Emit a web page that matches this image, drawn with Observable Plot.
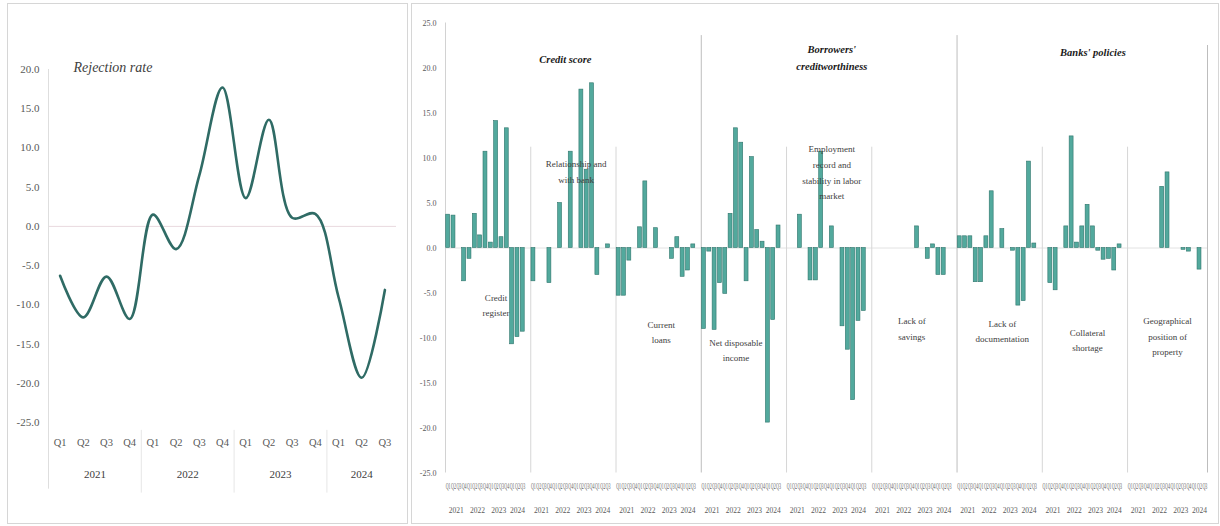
<!DOCTYPE html>
<html><head><meta charset="utf-8">
<script src="https://cdn.jsdelivr.net/npm/d3@7"></script>
<script src="https://cdn.jsdelivr.net/npm/@observablehq/plot@0.6"></script>
<style>
html,body{margin:0;padding:0;background:#fff;}
#wrap{position:relative;width:1220px;height:526px;overflow:hidden;font-family:"Liberation Serif",serif;}
.frame{position:absolute;border:1px solid #d6d6d6;box-sizing:border-box;}
#left,#right{position:absolute;top:0;}
</style></head><body>
<div id="wrap">
  <div class="frame" style="left:7px;top:3px;width:401px;height:521px"></div>
  <div class="frame" style="left:411px;top:3px;width:808px;height:521px"></div>
  <div id="left" style="left:0px"></div>
  <div id="right" style="left:412px"></div>
</div>
<script>
// ---------- data ----------
const quarters = ["Q1","Q2","Q3","Q4","Q1","Q2","Q3","Q4","Q1","Q2","Q3","Q4","Q1","Q2","Q3"];
const years = ["2021","2022","2023","2024"];
const rejectionRate = [-6.3,-11.6,-6.4,-11.8,1.5,-2.9,6.5,17.7,3.6,13.6,1.1,1.6,-9.0,-19.3,-8.1];

const sectionTitles = ["Credit score", "Borrowers'\ncreditworthiness", "Banks' policies"];
const groupNames = [
  "Credit\nregister",
  "Relationship and\nwith bank",
  "Current\nloans",
  "Net disposable\nincome",
  "Employment\nrecord and\nstability in labor\nmarket",
  "Lack of\nsavings",
  "Lack of\ndocumentation",
  "Collateral\nshortage",
  "Geographical\nposition of\nproperty"
];
const creditRegister       = [3.7, 3.6, 0, -3.7, -1.2, 3.8, 1.4, 10.7, 0.6, 14.1, 1.2, 13.3, -10.7, -9.9, -9.3];
const relationshipWithBank = [-3.7, 0, 0, -3.9, 0, 5.0, 0, 10.7, 0, 17.6, 8.7, 18.3, -3.0, 0, 0.4];
const currentLoans         = [-5.3, -5.3, -1.4, 0, 2.3, 7.4, 0, 2.2, 0, 0, -1.2, 1.2, -3.2, -2.5, 0.4];
const netDisposableIncome  = [-9.0, -0.4, -9.1, -3.9, -5.1, 3.8, 13.3, 11.7, -3.7, 10.1, 2.0, 0.7, -19.4, -8.0, 2.5];
const employmentRecord     = [0, 0, 3.7, 0, -3.6, -3.6, 10.7, 0, 2.4, 0, -8.7, -11.3, -16.9, -8.1, -7.0];
const lackOfSavings        = [0, 0, 0, 0, 0, 0, 0, 0, 2.4, 0, -1.2, 0.4, -3.0, -3.0, 0];
const lackOfDocumentation  = [1.3, 1.3, 1.3, -3.8, -3.8, 1.3, 6.3, 0, 2.1, 0, -0.3, -6.4, -5.9, 9.6, 0.5];
const collateralShortage   = [0, -3.9, -4.7, 0, 2.4, 12.4, 0.6, 2.4, 4.8, 2.4, -0.3, -1.3, -1.2, -2.5, 0.4];
const geographicalPosition = [0, 0, 0, 0, 0, 0, 6.8, 8.4, 0, 0, -0.2, -0.4, 0, -2.4, 0];
const groups = [creditRegister, relationshipWithBank, currentLoans, netDisposableIncome, employmentRecord,
                lackOfSavings, lackOfDocumentation, collateralShortage, geographicalPosition];

// ---------- helpers ----------
const yearSpans = years.map(() => []);
{ let y = -1; quarters.forEach((q, i) => { if (q === "Q1") y++; yearSpans[y].push(i); }); }
const yearCenters = yearSpans.map(s => d3.mean(s));
const yearBounds = yearSpans.slice(1).map(s => s[0] - 0.5);
const fmt = d => d.toFixed(1);
const svgStyle = "background: transparent; overflow: visible; font-family: 'Liberation Serif', serif;";

// ---------- left chart ----------
const lineData = rejectionRate.map((v, i) => ({i, v}));
const left = Plot.plot({
  width: 410, height: 526,
  marginLeft: 48, marginRight: 14, marginTop: 69, marginBottom: 104,
  style: svgStyle,
  x: {domain: [-0.5, quarters.length - 0.5], axis: null},
  y: {domain: [-25, 20], axis: null},
  marks: [
    Plot.ruleY([0], {stroke: "#e9d9de", strokeWidth: 1}),
    Plot.ruleX([-0.5], {y1: 20, y2: -33.5, stroke: "#dedede"}),
    Plot.ruleX(yearBounds, {y1: -26, y2: -34, stroke: "#e6e6e6"}),
    Plot.axisY({ticks: d3.range(-25, 20.1, 5), tickFormat: fmt, tickSize: 0, tickPadding: 9,
                fontSize: 11, color: "#595959", label: null}),
    Plot.line(lineData, {x: "i", y: "v", curve: "catmull-rom", stroke: "#2f6b65", strokeWidth: 2.6}),
    Plot.text(quarters, {x: (d, i) => i, text: d => d, frameAnchor: "bottom", dy: 23, fontSize: 10.5, fill: "#595959"}),
    Plot.text(years, {x: (d, i) => yearCenters[i], text: d => d, frameAnchor: "bottom", dy: 55, fontSize: 11, fill: "#404040"}),
    Plot.text(["Rejection rate"], {frameAnchor: "top-left", dx: 25, dy: -7, textAnchor: "start",
                fontSize: 14, fontStyle: "italic", fill: "#404040"})
  ]
});
document.getElementById("left").appendChild(left);

// ---------- right chart ----------
const SLOTS = 16; // 15 quarters + 1 blank per group
const totalSlots = (groups.length - 1) * SLOTS + quarters.length;
const barData = groups.flatMap((vals, g) => vals.map((v, q) => ({slot: g * SLOTS + q, v}))).filter(d => d.v !== 0);
const qLabelData = groups.flatMap((vals, g) => quarters.map((q, i) => ({x: g * SLOTS + i + 0.5, q})));
const yearLabelData = groups.flatMap((vals, g) => years.map((y, k) => ({x: g * SLOTS + yearCenters[k] + 0.5, y})));
const bounds = d3.range(1, groups.length).map(g => g * SLOTS);
const majorBounds = bounds.filter((b, k) => (k + 1) % 3 === 0);
const minorBounds = bounds.filter((b, k) => (k + 1) % 3 !== 0);

// annotation anchors (slot, value-units)
const groupLabelAnchors = [[9.5, -4.6], [24.5, 10.2], [40.5, -7.6], [54.5, -9.6], [72.5, 11.9],
                           [87.5, -7.2], [104.5, -7.5], [120.5, -8.5], [135.5, -7.2]];
const sectionAnchors = [[22.5, 21.8], [72.5, 22.9], [121.5, 22.6]];

const right = Plot.plot({
  width: 806, height: 526,
  marginLeft: 33, marginRight: 11, marginTop: 22.5, marginBottom: 53.5,
  style: svgStyle,
  x: {domain: [0, totalSlots], axis: null},
  y: {domain: [-25, 25], axis: null},
  marks: [
    Plot.ruleY([0], {stroke: "#e2e2e2"}),
    Plot.ruleX([0], {y1: -25, y2: 25, stroke: "#d2d2d2"}),
    Plot.ruleX(minorBounds, {y1: -25, y2: 11.2, stroke: "#d6d6d6"}),
    Plot.ruleX(majorBounds, {y1: -25, y2: 23.6, stroke: "#bdbdbd"}),
    Plot.ruleX([totalSlots], {y1: -25, y2: 22.5, stroke: "#bdbdbd"}),
    Plot.axisY({ticks: d3.range(-25, 25.1, 5), tickFormat: fmt, tickSize: 0, tickPadding: 9,
                fontSize: 8, color: "#595959", label: null}),
    Plot.rectY(barData, {x1: d => d.slot, x2: d => d.slot + 1, y: "v", insetLeft: 0.7, insetRight: 0.7,
                fill: "#52a99d", stroke: "#2f756c", strokeWidth: 0.6}),
    Plot.text(qLabelData, {x: "x", text: "q", frameAnchor: "bottom", dy: 15.5, fontSize: 8, fill: "#595959"}),
    Plot.text(yearLabelData, {x: "x", text: "y", frameAnchor: "bottom", dy: 39.5, fontSize: 7.5, fill: "#595959"}),
    Plot.text(groupNames, {x: (d, i) => groupLabelAnchors[i][0], y: (d, i) => groupLabelAnchors[i][1],
                text: d => d, lineAnchor: "top", lineHeight: 1.75, fontSize: 9, fill: "#404040"}),
    Plot.text(sectionTitles, {x: (d, i) => sectionAnchors[i][0], y: (d, i) => sectionAnchors[i][1],
                text: d => d, lineAnchor: "top", lineHeight: 1.55, fontSize: 10.5,
                fontWeight: "bold", fontStyle: "italic", fill: "#1a1a1a"})
  ]
});
document.getElementById("right").appendChild(right);
// squeeze the dense quarter labels horizontally so each fits its slot
d3.select(right).selectAll("text").filter(function() { return /^Q\d$/.test(this.textContent); })
  .each(function() {
    const t = this.getAttribute("transform") || "";
    this.setAttribute("transform", (t + " scale(0.5,1)").trim());
  });
</script>
</body></html>
